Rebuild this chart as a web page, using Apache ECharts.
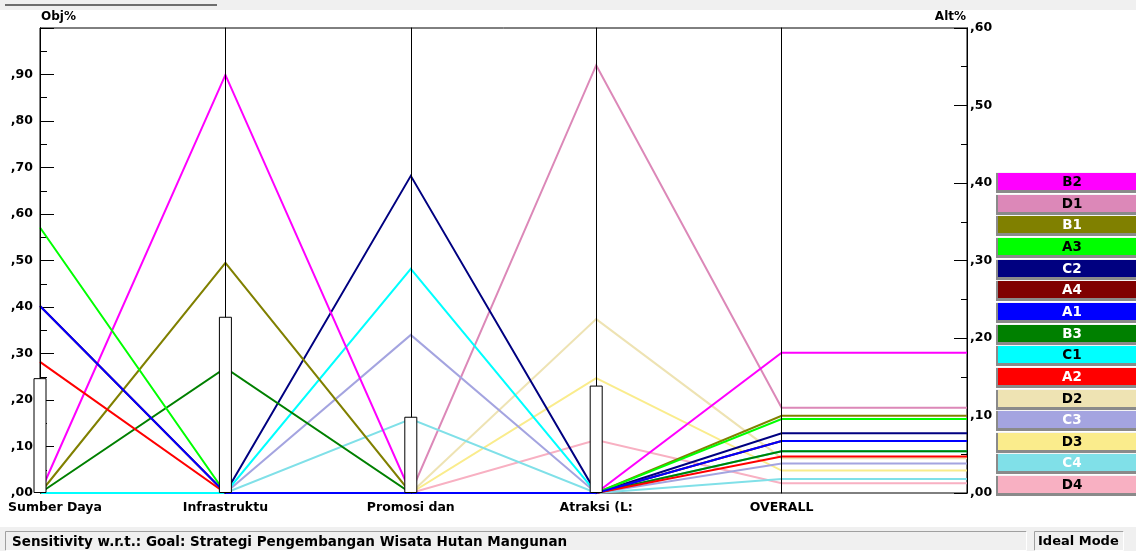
<!DOCTYPE html>
<html>
<head>
<meta charset="utf-8">
<script src="https://cdn.jsdelivr.net/npm/echarts@6/dist/echarts.min.js"></script>
<style>
html,body{margin:0;padding:0;background:#fff;}
#chart{width:1136px;height:551px;}
</style>
</head>
<body>
<div id="chart"></div>
<script>
// ---- data ----
const criteria = ['Sumber Daya', 'Infrastruktu', 'Promosi dan', 'Atraksi (L:', 'OVERALL'];
const criteriaWeights = [0.247, 0.379, 0.164, 0.231];
const altNames = ['B2','D1','B1','A3','C2','A4','A1','B3','C1','A2','D2','C3','D3','C4','D4'];
const altColors = ['#ff00ff','#dc88b8','#808000','#00ff00','#000080','#800000','#0000ff','#008000','#00ffff','#ff0000','#eee3b3','#a4a4e0','#faec8c','#80e0e8','#f8b0c2'];
const altTextColors = ['#000','#000','#fff','#000','#fff','#fff','#fff','#fff','#000','#fff','#000','#fff','#000','#fff','#000'];
const sumberDaya   = [0,     0,     0,     0.571, 0,     0.402, 0.402, 0,     0,     0.282, 0,     0,     0,     0,     0];
const infrastruktur= [0.899, 0,     0.495, 0,     0,     0,     0,     0.269, 0,     0,     0,     0,     0,     0,     0];
const promosi      = [0,     0,     0,     0,     0.682, 0,     0,     0,     0.482, 0,     0,     0.340, 0,     0.159, 0];
const atraksi      = [0,     0.920, 0,     0,     0,     0,     0,     0,     0,     0,     0.374, 0,     0.247, 0,     0.114];
const overall      = [0.181, 0.110, 0.0997,0.0955,0.077, 0.067, 0.067, 0.054, 0.054, 0.047, 0.045, 0.038, 0.029, 0.018, 0.0125];
const leftTicks = [0, 1, 0.1];     // min, max, interval (Obj%)
const rightTicks = [0, 0.6, 0.1];  // min, max, interval (Alt%)
const statusText = 'Sensitivity w.r.t.: Goal: Strategi Pengembangan Wisata Hutan Mangunan';
const modeText = 'Ideal Mode';

// ---- chart ----
const FONT = 'DejaVu Sans';
const chart = echarts.init(document.getElementById('chart'), null, {renderer: 'canvas'});
const L = 40, R = 169, T = 28, B = 58;
const W = 1136, H = 551;

function fmt(v){ return ',' + String(Math.round(v*100)).padStart(2,'0'); }

function plainAxis(){
  return {
    axisLine: {show: true, lineStyle: {color: '#000', width: 1}},
    axisTick: {show: false},
    axisLabel: {show: false, formatter: () => '', color: 'rgba(0,0,0,0)'},
    splitLine: {show: false}
  };
}
const nameStyle = {color: '#000', fontFamily: FONT, fontWeight: 'bold', fontSize: 12.5};

const parallelAxis = [];
for (let i = 0; i < 6; i++) {
  const ax = Object.assign({dim: i, type: 'value'}, plainAxis());
  if (i < 5) { ax.name = criteria[i]; ax.nameLocation = 'start'; ax.nameGap = 8; ax.nameTextStyle = Object.assign({verticalAlign: 'top'}, nameStyle); }
  if (i < 4) { ax.min = leftTicks[0]; ax.max = leftTicks[1]; }
  else { ax.min = rightTicks[0]; ax.max = rightTicks[1]; }
  parallelAxis.push(ax);
}
parallelAxis[0].nameTextStyle.padding = [0, 0, 0, 30];

const labelStyle = {color: '#000', fontFamily: FONT, fontWeight: 'bold', fontSize: 12.5};
const yAxis = [
  {type: 'value', position: 'left', min: leftTicks[0], max: leftTicks[1], interval: leftTicks[2],
   axisLine: {show: true, lineStyle: {color: '#000', width: 1}},
   axisTick: {show: true, inside: true, length: 14, lineStyle: {color: '#000', width: 1}},
   minorTick: {show: true, splitNumber: 2, length: 7, lineStyle: {color: '#000', width: 1}},
   axisLabel: Object.assign({margin: 7, formatter: v => v > 0.999 ? '' : fmt(v)}, labelStyle),
   splitLine: {show: false}},
  {type: 'value', position: 'right', min: rightTicks[0], max: rightTicks[1], interval: rightTicks[2],
   axisLine: {show: true, lineStyle: {color: '#000', width: 1}},
   axisTick: {show: true, inside: true, length: 13, lineStyle: {color: '#000', width: 1}},
   minorTick: {show: true, splitNumber: 2, length: 6, lineStyle: {color: '#000', width: 1}},
   axisLabel: Object.assign({margin: 3, formatter: v => fmt(v)}, labelStyle),
   splitLine: {show: false}}
];

// draw order: reverse alphabetical
const order = altNames.map((n, i) => i).sort((a, b) => altNames[b].localeCompare(altNames[a]));
const series = order.map(i => ({
  type: 'parallel',
  name: altNames[i],
  silent: true,
  smooth: false,
  lineStyle: {color: altColors[i], width: 2, opacity: 1},
  emphasis: {disabled: true},
  inactiveOpacity: 1, activeOpacity: 1,
  data: [[sumberDaya[i], infrastruktur[i], promosi[i], atraksi[i], overall[i], overall[i]]]
}));
series.push({
  type: 'bar', xAxisIndex: 0, yAxisIndex: 0, silent: true, clip: false, z: 20,
  barWidth: 13,
  itemStyle: {color: '#fff', borderColor: '#000', borderWidth: 1},
  data: criteriaWeights.map((w, i) => [i, w])
});

// graphics: legend boxes, status bar, titles
const graphics = [];
graphics.push({type: 'rect', left: 0, top: 0, shape: {width: W, height: 10}, style: {fill: '#f0f0f0'}, silent: true});
graphics.push({type: 'rect', left: 5, top: 4, shape: {width: 212, height: 2}, style: {fill: '#6e6e6e'}, silent: true});
graphics.push({type: 'text', left: 41, top: 11, style: {text: 'Obj%', fill: '#000', font: 'bold 12px ' + FONT}, silent: true});
graphics.push({type: 'text', right: W - 966, top: 11, style: {text: 'Alt%', fill: '#000', font: 'bold 12px ' + FONT}, silent: true});
const boxTop = 173, boxStep = 21.65;
altNames.forEach((n, i) => {
  const y = Math.round(boxTop + i * boxStep);
  graphics.push({type: 'rect', shape: {x: 996, y: y - 1, width: 160, height: 21}, style: {fill: '#8a8a8a'}, silent: true, z: 1});
  graphics.push({type: 'rect', shape: {x: 996, y: y - 1, width: 160, height: 1}, style: {fill: '#f4f4f4'}, silent: true, z: 2});
  graphics.push({type: 'rect', shape: {x: 998, y: y, width: 160, height: 17}, style: {fill: altColors[i]}, silent: true, z: 3});
  graphics.push({type: 'text', x: 1072, y: y + 9, style: {text: n, fill: altTextColors[i], font: 'bold 13.5px ' + FONT, align: 'center', verticalAlign: 'middle'}, silent: true, z: 4});
});
graphics.push({type: 'rect', shape: {x: 0, y: 527, width: W, height: 24}, style: {fill: '#f0f0f0'}, silent: true});
function sunken(x, y, w, h){
  graphics.push({type: 'polyline', shape: {points: [[x, y + h], [x, y], [x + w, y]]}, style: {stroke: '#a0a0a0', lineWidth: 1, fill: null}, silent: true});
  graphics.push({type: 'polyline', shape: {points: [[x + w, y], [x + w, y + h], [x, y + h]]}, style: {stroke: '#ffffff', lineWidth: 1, fill: null}, silent: true});
}
sunken(5.5, 531.5, 1021, 19);
sunken(1034.5, 531.5, 89, 19);
graphics.push({type: 'text', x: 12, y: 542, style: {text: statusText, fill: '#000', font: 'bold 13.5px ' + FONT, verticalAlign: 'middle'}, silent: true});
graphics.push({type: 'text', x: 1038, y: 542, style: {text: modeText, fill: '#000', font: 'bold 13px ' + FONT, verticalAlign: 'middle'}, silent: true});

chart.setOption({
  animation: false,
  backgroundColor: '#fff',
  grid: {left: L, right: R, top: T, bottom: B, show: true, backgroundColor: '#fff', borderColor: '#000', borderWidth: 1},
  xAxis: {type: 'value', min: 0, max: 5, show: false},
  yAxis: yAxis,
  parallel: {left: L, right: R, top: T, bottom: B},
  parallelAxis: parallelAxis,
  series: series,
  graphic: graphics
});
</script>
</body>
</html>
